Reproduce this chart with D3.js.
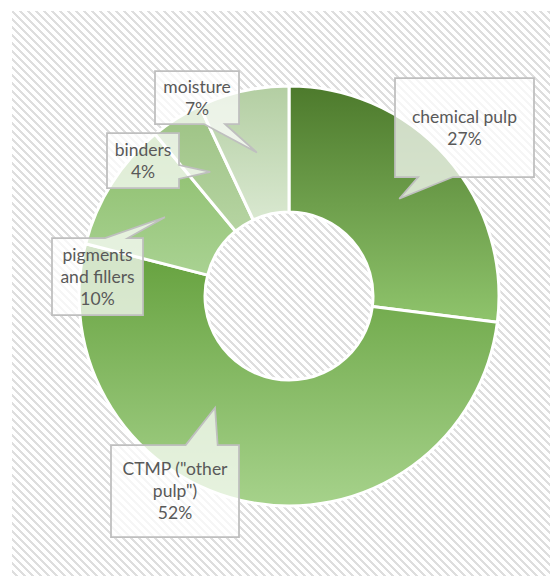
<!DOCTYPE html>
<html>
<head>
<meta charset="utf-8">
<script src="https://cdn.jsdelivr.net/npm/d3@7/dist/d3.min.js"></script>
<style>
  body { margin: 0; background: #fff; }
  svg { display: block; }
</style>
</head>
<body>
<div id="chart"></div>
<script>
// Data
var categories = ["chemical pulp", "CTMP (\"other pulp\")", "pigments and fillers", "binders", "moisture"];
var shares = [27, 52, 10, 4, 7];
// how each category name wraps inside its callout
var nameLines = [["chemical pulp"], ["CTMP (\"other", "pulp\")"], ["pigments", "and fillers"], ["binders"], ["moisture"]];

// Styles
var topColors = ["#4d7a2c", "#64a03c", "#8bbd6a", "#9cc283", "#b3cea2"];
var bottomColors = ["#8fc46c", "#a6d28b", "#a9d292", "#b6d4a2", "#d9e8d0"];

var width = 550, height = 576;
var cx = 289, cy = 296, outerR = 210, innerR = 84;

// callout boxes (layout), tip defaults to slice centroid
var callouts = [
  { x: 395, y: 78, w: 139, h: 99 },
  { x: 111, y: 445, w: 128, h: 92, tipAngle: 213.5, tipR: 134 },
  { x: 52, y: 238, w: 91, h: 77 },
  { x: 107, y: 133, w: 72, h: 55 },
  { x: 155, y: 71, w: 84, h: 53 }
];

var svg = d3.select("#chart").append("svg")
  .attr("width", width)
  .attr("height", height);

var defs = svg.append("defs");

// hatch pattern (wide downward diagonal)
var pat = defs.append("pattern")
  .attr("id", "hatch")
  .attr("patternUnits", "userSpaceOnUse")
  .attr("width", 8)
  .attr("height", 8);
pat.append("rect").attr("width", 8).attr("height", 8).attr("fill", "#fff");
for (var r = 0; r < 8; r++) {
  for (var k = 0; k < 3; k++) {
    pat.append("rect")
      .attr("x", (r + k) % 8)
      .attr("y", r)
      .attr("width", 1)
      .attr("height", 1)
      .attr("fill", "#dedede")
      .attr("shape-rendering", "crispEdges");
  }
}

// chart area background
svg.append("rect")
  .attr("x", 12)
  .attr("y", 11)
  .attr("width", width - 12)
  .attr("height", height - 11)
  .attr("fill", "url(#hatch)");

// gradients per slice
categories.forEach(function (c, i) {
  var g = defs.append("linearGradient")
    .attr("id", "grad" + i)
    .attr("x1", 0).attr("y1", 0)
    .attr("x2", 0).attr("y2", 1);
  g.append("stop").attr("offset", "0%").attr("stop-color", topColors[i]);
  g.append("stop").attr("offset", "100%").attr("stop-color", bottomColors[i]);
});

var pie = d3.pie().sort(null).value(function (d) { return d; });
var arcs = pie(shares);

var arc = d3.arc()
  .innerRadius(innerR)
  .outerRadius(outerR);

var chart = svg.append("g")
  .attr("transform", "translate(" + cx + "," + cy + ")");

chart.selectAll("path.slice")
  .data(arcs)
  .enter()
  .append("path")
  .attr("class", "slice")
  .attr("d", arc)
  .attr("fill", function (d, i) { return "url(#grad" + i + ")"; })
  .attr("stroke", "#fff")
  .attr("stroke-width", 3)
  .attr("stroke-linejoin", "round");

// callout shape like Excel's wedgeRectCallout
function calloutPath(b, tx, ty) {
  var x = b.x, y = b.y, w = b.w, h = b.h;
  var dx = tx - (x + w / 2), dy = ty - (y + h / 2);
  var p;
  if (Math.abs(dy) * w > Math.abs(dx) * h) {
    var b1 = w * (dx > 0 ? 7 : 2) / 12, b2 = w * (dx > 0 ? 10 : 5) / 12;
    if (dy > 0) {
      p = [[x, y], [x + w, y], [x + w, y + h], [x + b2, y + h], [tx, ty], [x + b1, y + h], [x, y + h]];
    } else {
      p = [[x, y], [x + b1, y], [tx, ty], [x + b2, y], [x + w, y], [x + w, y + h], [x, y + h]];
    }
  } else {
    var c1 = h * (dy > 0 ? 7 : 2) / 12, c2 = h * (dy > 0 ? 10 : 5) / 12;
    if (dx > 0) {
      p = [[x, y], [x + w, y], [x + w, y + c1], [tx, ty], [x + w, y + c2], [x + w, y + h], [x, y + h]];
    } else {
      p = [[x, y], [x + w, y], [x + w, y + h], [x, y + h], [x, y + c2], [tx, ty], [x, y + c1]];
    }
  }
  return "M" + p.map(function (q) { return q[0] + "," + q[1]; }).join("L") + "Z";
}

var fontSize = 17.5, lineH = 22;

var labels = svg.append("g").attr("class", "labels");

arcs.forEach(function (d, i) {
  var b = callouts[i];
  var tip;
  if (b.tipAngle != null) {
    tip = d3.pointRadial(b.tipAngle * Math.PI / 180, b.tipR);
  } else {
    tip = arc.centroid(d);
  }
  var tx = cx + tip[0], ty = cy + tip[1];

  labels.append("path")
    .attr("d", calloutPath(b, tx, ty))
    .attr("fill", "#fff")
    .attr("fill-opacity", 0.72)
    .attr("stroke", "#bfbfbf")
    .attr("stroke-width", 1.75);

  var lines = nameLines[i].concat([shares[i] + "%"]);
  var midY = b.y + b.h / 2;
  var text = labels.append("text")
    .attr("text-anchor", "middle")
    .style("font-family", "Lato, 'Open Sans', sans-serif")
    .style("font-size", fontSize + "px")
    .attr("fill", "#595959");
  lines.forEach(function (s, j) {
    text.append("tspan")
      .attr("x", b.x + b.w / 2)
      .attr("y", midY - (lines.length - 1) * lineH / 2 + j * lineH + fontSize * 0.35)
      .text(s);
  });
});
</script>
</body>
</html>
